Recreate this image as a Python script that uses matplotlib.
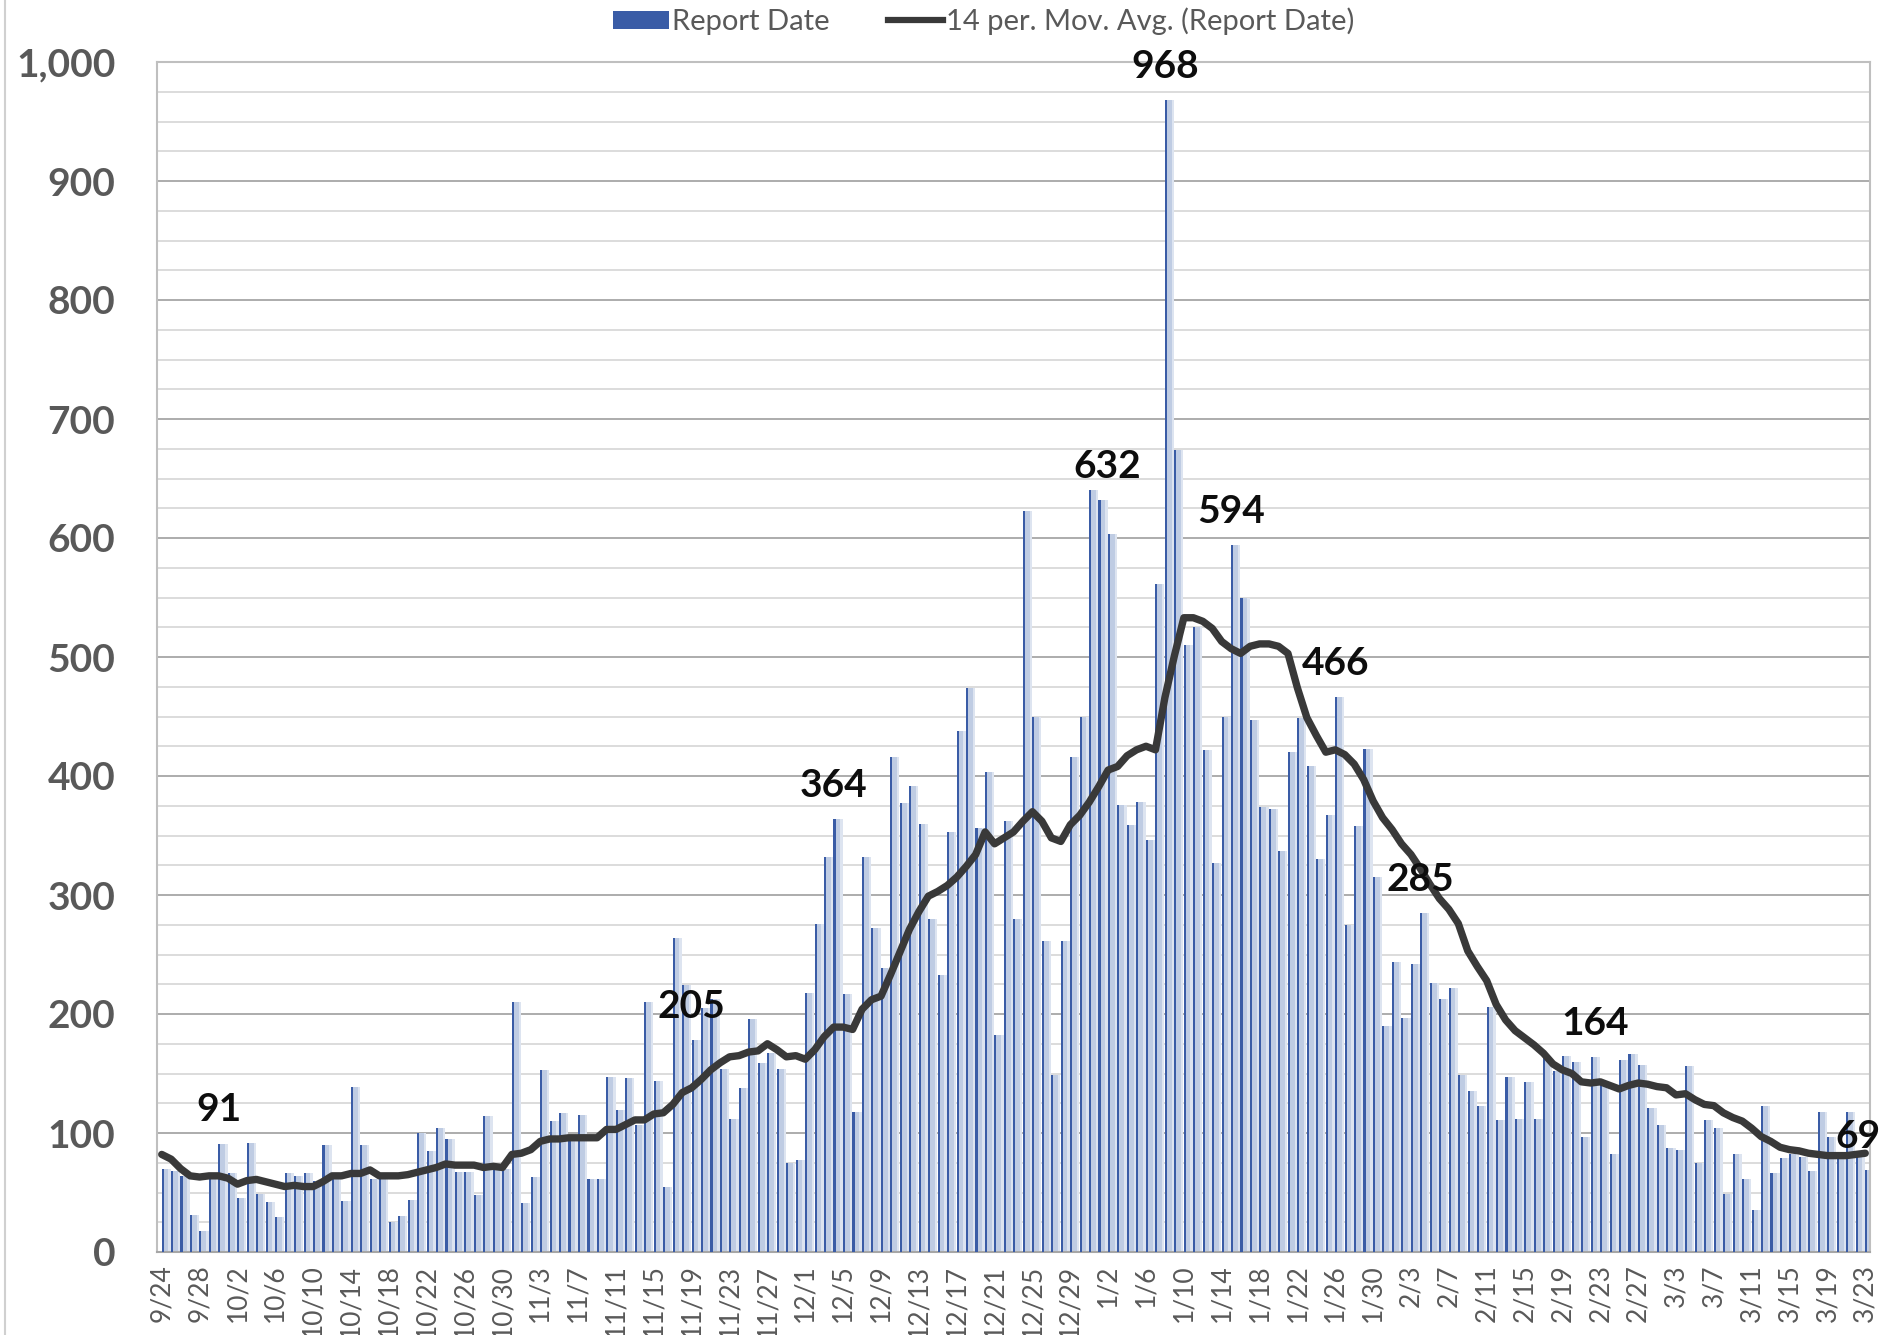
import numpy as np
import matplotlib
matplotlib.use('Agg')
import matplotlib.pyplot as plt
from matplotlib.patches import Patch
from matplotlib.lines import Line2D
import pandas as pd

# ---------------- data ----------------
dates = pd.date_range('2020-09-24', '2021-03-23', freq='D')
categories = [f"{d.month}/{d.day}" for d in dates]

report_date = [
    70, 68, 64, 31, 18, 61, 91, 66, 45, 92,
    49, 42, 29, 66, 64, 66, 60, 90, 61, 43,
    139, 90, 61, 61, 25, 30, 44, 100, 85, 104,
    95, 67, 67, 48, 114, 69, 70, 210, 41, 63,
    153, 110, 117, 97, 115, 61, 61, 147, 119, 146,
    107, 210, 144, 55, 264, 224, 178, 205, 213, 154,
    112, 138, 196, 159, 167, 154, 75, 77, 218, 276,
    332, 364, 217, 118, 332, 272, 239, 416, 377, 392,
    360, 280, 233, 353, 438, 474, 356, 403, 182, 362,
    280, 623, 450, 261, 149, 261, 416, 450, 640, 632,
    603, 376, 359, 378, 346, 561, 968, 674, 510, 525,
    422, 327, 450, 594, 550, 447, 374, 372, 337, 420,
    449, 408, 330, 367, 466, 275, 358, 423, 315, 190,
    244, 197, 242, 285, 226, 213, 222, 149, 135, 123,
    206, 111, 147, 112, 143, 112, 163, 152, 165, 160,
    97, 164, 140, 82, 161, 166, 157, 121, 107, 87,
    86, 156, 75, 111, 104, 49, 82, 61, 35, 123,
    66, 79, 82, 80, 68, 118, 97, 82, 118, 83, 69,
]

mov_avg = [
    82, 78, 70, 64, 63, 64, 64, 62, 57, 60,
    61, 59, 57, 55, 56, 55, 55, 59, 64, 64,
    66, 66, 69, 64, 64, 64, 65, 67, 69, 71,
    74, 73, 73, 73, 71, 72, 71, 82, 83, 86,
    93, 95, 95, 96, 96, 96, 96, 103, 103, 107,
    111, 111, 116, 117, 124, 134, 138, 145, 153, 159,
    164, 165, 168, 169, 175, 170, 164, 165, 162, 170,
    181, 189, 189, 187, 204, 212, 215, 233, 252, 271,
    286, 299, 303, 308, 315, 324, 334, 353, 343, 348,
    353, 362, 370, 362, 348, 345, 359, 367, 378, 391,
    405, 408, 417, 422, 425, 422, 466, 501, 533, 533,
    530, 524, 513, 507, 503, 509, 511, 511, 509, 503,
    474, 449, 434, 420, 422, 418, 410, 397, 379, 365,
    355, 343, 334, 322, 309, 297, 288, 276, 253, 240,
    228, 208, 195, 186, 180, 174, 167, 158, 153, 150,
    143, 142, 143, 140, 137, 140, 142, 141, 139, 138,
    132, 133, 128, 124, 123, 117, 113, 110, 104, 97,
    93, 88, 86, 85, 83, 82, 81, 81, 81, 82, 83,
]

label_dates = ['9/30', '11/19', '12/4', '1/1', '1/8', '1/15', '1/26', '2/4', '2/22', '3/23']
label_values = [91, 205, 364, 632, 968, 594, 466, 285, 164, 69]

y_ticks = [0, 100, 200, 300, 400, 500, 600, 700, 800, 900, 1000]
y_tick_labels = ['0', '100', '200', '300', '400', '500', '600', '700', '800', '900', '1,000']

legend_labels = ['Report Date', '14 per. Mov. Avg. (Report Date)']

# ---------------- style ----------------
plt.rcParams['font.family'] = ['Lato', 'DejaVu Sans']

W, H = 1892, 1335
fig = plt.figure(figsize=(W / 100, H / 100), dpi=100)
left, right, top, bottom = 157, 1870, 62, 1252
ax = fig.add_axes([left / W, 1 - bottom / H, (right - left) / W, (bottom - top) / H])

x = np.arange(len(categories))
dark_blue = '#3a5ca6'
light_blue = '#bfcce3'
shadow_blue = '#dde4f0'

# soft shadow, light body, dark edge line
ax.bar(x + 0.15, report_date, width=0.8, align='edge', color=shadow_blue, zorder=1.8, linewidth=0)
ax.bar(x + 0.15, report_date, width=0.55, align='edge', color=light_blue, zorder=2, linewidth=0)
ax.bar(x - 0.02, report_date, width=0.22, align='edge', color=dark_blue, zorder=3, linewidth=0)
ax.plot(x, mov_avg, color='#393939', lw=5.3, zorder=4,
        solid_capstyle='round', solid_joinstyle='round')

# data labels
label_dx = {'1/1': 6, '2/22': 3, '3/23': -5}
for d, v in zip(label_dates, label_values):
    i = categories.index(d)
    ax.annotate(str(v), (i, report_date[i]), xytext=(label_dx.get(d, 0), 16),
                textcoords='offset points', ha='center', va='baseline',
                fontsize=28, fontweight='bold', color='#0d0d0d', zorder=6,
                annotation_clip=False)

ax.set_xlim(-0.5, len(categories) - 0.5)
ax.set_ylim(0, 1000)
ax.set_yticks(y_ticks)
ax.set_yticklabels(y_tick_labels, fontweight='bold')
ax.set_yticks(np.arange(0, 1001, 25), minor=True)
ax.set_xticks(x[::4])
ax.set_xticklabels(categories[::4], rotation=90)

ax.tick_params(axis='y', which='both', length=0, pad=30, labelsize=28, labelcolor='#595959')
ax.tick_params(axis='x', which='both', length=0, pad=9, labelsize=19, labelcolor='#595959')

ax.set_axisbelow(True)
ax.grid(which='major', axis='y', color='#a6a6a6', lw=1.3, zorder=0.5)
ax.grid(which='minor', axis='y', color='#d9d9d9', lw=1.3, zorder=0.4)
ax.grid(axis='x', visible=False)

for s in ax.spines.values():
    s.set_color('#bfbfbf')
    s.set_linewidth(1.5)
ax.spines['bottom'].set_color('#a6a6a6')

# legend
handles = [Patch(facecolor=dark_blue, edgecolor='none'),
           Line2D([0], [0], color='#393939', lw=4.5)]
fig.legend(handles, legend_labels, loc='center', bbox_to_anchor=(0.52, 0.984),
           ncol=2, frameon=False, fontsize=21, handlelength=1.9, handleheight=0.6,
           handletextpad=0.1, columnspacing=2.0, labelcolor='#595959')

# faint outer border line at the very left
fig.add_artist(Line2D([5 / W, 5 / W], [0, 1], color='#d0d0d0', lw=1.5))

fig.savefig('out.png', dpi=100)
